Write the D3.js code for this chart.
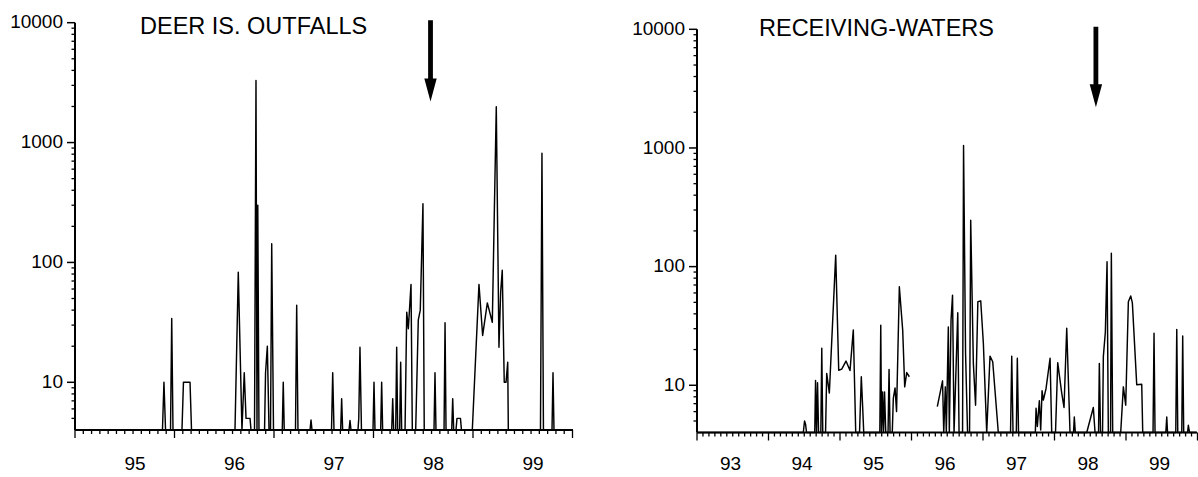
<!DOCTYPE html>
<html><head><meta charset="utf-8">
<script src="https://cdn.jsdelivr.net/npm/d3@7"></script>
<style>
html,body{margin:0;padding:0;background:#fff;}
svg{display:block;}
text{font-family:"Liberation Sans", Arial, sans-serif; fill:#000;}
</style></head><body>
<svg id="chart" width="1198" height="477"></svg>
<script>
// ---------- DATA (decimal year, value; 4 = detection floor) ----------
const outfallYears = [1994.40,
 1995.276,1995.291,1995.307, 1995.357,1995.369,1995.382, 1995.472,1995.487,1995.553,1995.568,
 1996.005,1996.038,1996.075,1996.098,1996.116,1996.156,1996.166,
 1996.201,1996.216,1996.226,1996.234,1996.246,
 1996.302,1996.312,1996.330,1996.347, 1996.362,1996.374,1996.392,
 1996.480,1996.490,1996.500, 1996.613,1996.625,1996.638, 1996.759,1996.769,1996.779,
 1996.975,1996.987,1997.000, 1997.067,1997.077,1997.087, 1997.151,1997.161,1997.171,
 1997.241,1997.249,1997.261,1997.276, 1997.392,1997.402,1997.412, 1997.469,1997.479,1997.489,
 1997.580,1997.590,1997.600, 1997.620,1997.630,1997.640, 1997.660,1997.670,1997.680,
 1997.714,1997.731,1997.747,1997.774,1997.787, 1997.821,1997.847,1997.867,1997.894,1997.907,
 1998.005,1998.015,1998.025, 1998.106,1998.116,1998.126, 1998.183,1998.193,1998.203,
 1998.226,1998.236,1998.271,1998.281,
 1998.390,1998.457,1998.494,1998.541,1998.591,1998.611,1998.631,1998.658,1998.675,1998.691,1998.711,1998.729,1998.746,1998.752,
 1999.075,1999.090,1999.105, 1999.191,1999.201,1999.211, 1999.40];
const outfallValues = [4,
 4,10,4, 4,34,4, 4,10,10,4,
 4,83,4,12,5,5,4,
 4,3300,4,300,4,
 4,12,20,4, 4,143,4,
 4,10,4, 4,44,4, 4,4.85,4,
 4,12,4, 4,7.3,4, 4,4.8,4,
 4,5,19.6,4, 4,10,4, 4,10,4,
 4,7.3,4, 4,19.6,4, 4,14.7,4,
 4,38.5,28,65.6,4, 4,33,40,309,4,
 4,12,4, 4,31.4,4, 4,7.3,4,
 4,5,5,4,
 4,65.6,24.6,46,31.7,256,1990,19.6,56.6,86,10,10,14.7,4,
 4,813,4, 4,12,4, 4];

const receivingYears = [1992.53,
 1994.018,1994.035,1994.049,1994.063, 1994.178,1994.189,1994.203,1994.217,1994.231,
 1994.263,1994.276,1994.290,
 1994.329,1994.345,1994.382,1994.471,1994.513,1994.555,1994.615,1994.671,1994.717,1994.751,
 1994.804,1994.829,1994.846,1994.863,
 1995.088,1995.101,1995.112,1995.126,1995.140,1995.154,1995.171, 1995.203,1995.217,1995.231,
 1995.262,1995.277,1995.301,1995.322,1995.361,1995.408,1995.436,1995.464,1995.501,
 1995.70,
 1995.892,1995.965,1995.982,1996.004,1996.018,1996.046,1996.060,1996.084,1996.105,1996.126,1996.178,1996.196,
 1996.245,1996.259,1996.287,1996.315,
 1996.343,1996.359,1996.396,1996.427,1996.459,1996.499,1996.536,1996.583,
 1996.629,1996.667,1996.745,
 1996.916,1996.933,1996.951, 1996.997,1997.011,1997.028,
 1997.263,1997.273,1997.291,1997.319,1997.338,1997.357,1997.375,1997.413,1997.469,1997.492,
 1997.545,1997.576,1997.632,1997.664,1997.702,1997.748,
 1997.797,1997.808,1997.822,
 1997.982,1998.074,1998.098,
 1998.147,1998.158,1998.175, 1998.203,1998.214,1998.242,1998.266,1998.284, 1998.315,1998.326,1998.345,
 1998.457,1998.494,1998.527,1998.564,1998.597,1998.620,1998.681,1998.751,1998.765,
 1998.909,1998.923,1998.937, 1999.088,1999.101,1999.112, 1999.227,1999.241,1999.255,
 1999.311,1999.324,1999.338, 1999.392,1999.403,1999.420, 1999.51];
const receivingValues = [4,
 4,5,4.7,4, 4,11,4,10.5,4,
 4,20.5,4,
 4,12.6,8.6,125,13.4,13.7,16,13.3,29.2,4,
 4,11.8,7,4,
 4,32,4,8.8,4,8.8,4, 4,13.6,4,
 4,7.8,9.5,6,67.6,29,9.7,12.8,11.8,
 null,
 6.6,10.9,4,9.7,4,31,4,35.5,57.5,4,40.8,4,
 4,1050,18.6,4,
 4,246,15.3,6.8,50.6,51.5,22.6,4,
 17.6,15.8,4,
 4,17.6,4, 4,16.9,4,
 4,6.4,4.5,7.4,4.2,9.0,7.5,9.4,16.9,4,
 4,15.5,8.6,6.5,30.2,4,
 4,5.4,4,
 4,6.5,4,
 4,15.3,4, 4,17.4,28,110,4, 4,130,4,
 4,9.7,6.8,50.6,56.6,49.5,10.1,10.2,4,
 4,27.4,4, 4,5.4,4, 4,29.6,4,
 4,26,4, 4,4.6,4, 4];

const outfallLabelYears = [1995,1996,1997,1998,1999];
const outfallYearLabels = ["95","96","97","98","99"];
const receivingLabelYears = [1993,1994,1995,1996,1997,1998,1999];
const receivingYearLabels = ["93","94","95","96","97","98","99"];
const yTickValues = [10,100,1000,10000];
const yTickLabels = ["10","100","1000","10000"];
const panelTitles = ["DEER IS. OUTFALLS","RECEIVING-WATERS"];
const arrowYears = [1997.97, 1998.11];

// ---------- DRAW ----------
const svg = d3.select("#chart");

const panels = [
  {title: panelTitles[0], years: outfallYears, values: outfallValues,
   labelYears: outfallLabelYears, labels: outfallYearLabels, arrow: arrowYears[0],
   xDomain: [1994.397, 1999.402], xRange: [75, 573], yRange: [430, 22.7],
   months: 60, titleX: 140, titleY: 34},
  {title: panelTitles[1], years: receivingYears, values: receivingValues,
   labelYears: receivingLabelYears, labels: receivingYearLabels, arrow: arrowYears[1],
   xDomain: [1992.531, 1999.524], xRange: [697, 1197], yRange: [432.5, 29.3],
   months: 84, titleX: 759, titleY: 35.5}
];

panels.forEach(p => {
  const g = svg.append("g");
  const x = d3.scaleLinear().domain(p.xDomain).range(p.xRange);
  const y = d3.scaleLog().domain([4, 10000]).range(p.yRange);
  const x0 = p.xRange[0], x1 = p.xRange[1], yb = p.yRange[0], yt = p.yRange[1];

  // data line
  const pts = p.years.map((t, i) => ({t, v: p.values[i]}));
  const line = d3.line().defined(d => d.v != null)
    .x(d => x(d.t)).y(d => y(Math.max(4, d.v)));
  g.append("path").datum(pts).attr("d", line)
    .attr("fill", "none").attr("stroke", "#000").attr("stroke-width", 1.45)
    .attr("stroke-linejoin", "round");

  // y axis
  g.append("line").attr("x1", x0).attr("x2", x0).attr("y1", yb).attr("y2", yt)
    .attr("stroke", "#000").attr("stroke-width", 2);
  const minor = [];
  [1, 10, 100, 1000].forEach(d => { for (let k = 2; k <= 9; k++) { const v = k * d; if (v > 4 && v < 10000) minor.push(v); } });
  g.selectAll(null).data(minor).enter().append("line")
    .attr("x1", x0 - 3.5).attr("x2", x0).attr("y1", d => y(d)).attr("y2", d => y(d))
    .attr("stroke", "#000").attr("stroke-width", 1.3);
  g.selectAll(null).data(yTickValues).enter().append("line")
    .attr("x1", x0 - 8).attr("x2", x0).attr("y1", d => y(d)).attr("y2", d => y(d))
    .attr("stroke", "#000").attr("stroke-width", 1.5);
  g.selectAll(null).data(yTickValues).enter().append("text")
    .attr("x", x0 - 12).attr("y", d => y(d)).attr("dy", "0.3em")
    .attr("text-anchor", "end").style("font-size", "19px")
    .text((d, i) => yTickLabels[i]);

  // x axis
  g.append("line").attr("x1", x0).attr("x2", x1).attr("y1", yb).attr("y2", yb)
    .attr("stroke", "#000").attr("stroke-width", 2);
  const months = d3.range(0, p.months + 1);
  g.selectAll(null).data(months).enter().append("line")
    .attr("x1", m => x(p.xDomain[0] + m / 12)).attr("x2", m => x(p.xDomain[0] + m / 12))
    .attr("y1", yb).attr("y2", m => yb + (m % 12 === 0 ? 8 : 4))
    .attr("stroke", "#000").attr("stroke-width", 1.3);
  g.selectAll(null).data(p.labelYears).enter().append("text")
    .attr("x", d => x(d)).attr("y", 470).attr("text-anchor", "middle")
    .style("font-size", "19px").text((d, i) => p.labels[i]);

  // title
  g.append("text").attr("x", p.titleX).attr("y", p.titleY)
    .style("font-size", "23.5px").text(p.title);

  // arrow
  const ax = x(p.arrow), tail = y(10500), tip = y(2200), headLen = 23, hw = 6.2, sw = 2.4;
  g.append("path")
    .attr("d", `M${ax - sw},${tail} L${ax + sw},${tail} L${ax + sw},${tip - headLen} L${ax + hw},${tip - headLen} L${ax},${tip} L${ax - hw},${tip - headLen} L${ax - sw},${tip - headLen} Z`)
    .attr("fill", "#000");
});
</script>
</body></html>
